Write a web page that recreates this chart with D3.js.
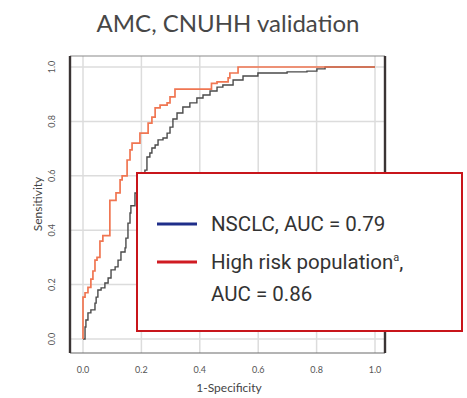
<!DOCTYPE html>
<html><head><meta charset="utf-8">
<script src="https://cdn.jsdelivr.net/npm/d3@7"></script>
<style>html,body{margin:0;padding:0;background:#fff;}svg{display:block;}</style>
</head><body>
<svg id="chart" width="467" height="398"></svg>
<script>
// ---- data ----
const title = "AMC, CNUHH validation";
const xTicks = [0, 0.2, 0.4, 0.6, 0.8, 1.0];
const xTickLabels = ["0.0", "0.2", "0.4", "0.6", "0.8", "1.0"];
const yTicks = [0, 0.2, 0.4, 0.6, 0.8, 1.0];
const yTickLabels = ["0.0", "0.2", "0.4", "0.6", "0.8", "1.0"];
const xLabel = "1-Specificity";
const yLabel = "Sensitivity";

const nsclcFPR = [0,0.007,0.01,0.017,0.027,0.041,0.045,0.051,0.062,0.075,0.086,0.096,0.11,0.12,0.13,0.144,0.147,0.154,0.161,0.164,0.178,0.19,0.2,0.212,0.219,0.229,0.236,0.247,0.257,0.274,0.288,0.298,0.308,0.322,0.342,0.366,0.39,0.411,0.435,0.459,0.479,0.514,0.548,0.599,0.699,0.767,0.801,0.829,1.0];
const nsclcTPR = [0,0.044,0.07,0.096,0.107,0.132,0.154,0.18,0.188,0.206,0.224,0.254,0.265,0.29,0.32,0.335,0.371,0.426,0.463,0.49,0.537,0.565,0.59,0.621,0.669,0.684,0.702,0.713,0.732,0.739,0.757,0.779,0.809,0.831,0.853,0.868,0.886,0.897,0.912,0.926,0.934,0.952,0.967,0.978,0.982,0.985,0.993,1.0,1.0];

const highFPR = [0,0,0.007,0.017,0.027,0.034,0.041,0.048,0.058,0.068,0.092,0.092,0.113,0.127,0.134,0.151,0.161,0.168,0.195,0.223,0.236,0.247,0.264,0.288,0.298,0.315,0.44,0.459,0.497,0.503,0.531,1.0];
const highTPR = [0,0.154,0.17,0.19,0.22,0.25,0.29,0.30,0.36,0.38,0.39,0.51,0.537,0.585,0.6,0.658,0.695,0.72,0.757,0.794,0.816,0.85,0.86,0.868,0.89,0.919,0.94,0.945,0.96,0.978,1.0,1.0];

const legendLabels = ["NSCLC, AUC = 0.79", "High risk population", "AUC = 0.86"];

// ---- drawing ----
const svg = d3.select("#chart");
const x = d3.scaleLinear().domain([0, 1]).range([83, 375]);
const y = d3.scaleLinear().domain([0, 1]).range([339, 67]);
const frame = {x0: 70, x1: 385, y0: 56, y1: 353};

// title
svg.append("text").attr("x", 228).attr("y", 32).attr("text-anchor", "middle")
  .attr("font-family", "Lato, 'Open Sans', sans-serif").attr("font-size", 24)
  .attr("fill", "#474747").text(title);

// grid
const g = svg.append("g");
g.selectAll("line.gx").data(xTicks).join("line")
  .attr("x1", d => x(d)).attr("x2", d => x(d))
  .attr("y1", frame.y0).attr("y2", frame.y1)
  .attr("stroke", "#dcdcdc").attr("stroke-width", 1.5);
g.selectAll("line.gy").data(yTicks).join("line")
  .attr("y1", d => y(d)).attr("y2", d => y(d))
  .attr("x1", frame.x0).attr("x2", frame.x1)
  .attr("stroke", "#dcdcdc").attr("stroke-width", 1.5);

// curves
const line = d3.line().curve(d3.curveStepAfter).x(d => x(d[0])).y(d => y(d[1]));
const nsclc = nsclcFPR.map((v, i) => [v, nsclcTPR[i]]);
const high = highFPR.map((v, i) => [v, highTPR[i]]);
svg.append("path").datum(nsclc).attr("d", line).attr("fill", "none")
  .attr("stroke", "#4a4a4a").attr("stroke-width", 1.4);
svg.append("path").datum(high).attr("d", line).attr("fill", "none")
  .attr("stroke", "#f07652").attr("stroke-width", 1.7);

// frame
svg.append("line").attr("x1", frame.x0).attr("x2", frame.x1).attr("y1", frame.y0).attr("y2", frame.y0)
  .attr("stroke", "#8a8a8a").attr("stroke-width", 1.2);
svg.append("line").attr("x1", frame.x0).attr("x2", frame.x1).attr("y1", frame.y1).attr("y2", frame.y1)
  .attr("stroke", "#6a6a6a").attr("stroke-width", 1.2);
svg.append("line").attr("x1", frame.x0).attr("x2", frame.x0).attr("y1", frame.y0).attr("y2", frame.y1)
  .attr("stroke", "#3a3434").attr("stroke-width", 2.4);
svg.append("line").attr("x1", frame.x1).attr("x2", frame.x1).attr("y1", frame.y0).attr("y2", frame.y1)
  .attr("stroke", "#3a3434").attr("stroke-width", 2.4);

// tick labels
svg.selectAll("text.xt").data(xTicks).join("text")
  .attr("x", d => x(d)).attr("y", 373).attr("text-anchor", "middle")
  .attr("font-family", "Lato, sans-serif").attr("font-size", 9).attr("fill", "#555")
  .text((d, i) => xTickLabels[i]);
svg.selectAll("text.yt").data(yTicks).join("text")
  .attr("transform", d => `translate(55,${y(d)}) rotate(-90)`).attr("text-anchor", "middle")
  .attr("font-family", "Lato, sans-serif").attr("font-size", 9).attr("fill", "#555")
  .text((d, i) => yTickLabels[i]);

// axis titles
svg.append("text").attr("x", 229).attr("y", 392).attr("text-anchor", "middle")
  .attr("font-family", "Lato, sans-serif").attr("font-size", 12).attr("fill", "#444").text(xLabel);
svg.append("text").attr("transform", "translate(42,204) rotate(-90)").attr("text-anchor", "middle")
  .attr("font-family", "Lato, sans-serif").attr("font-size", 12).attr("fill", "#444").text(yLabel);

// legend
const lg = svg.append("g");
lg.append("rect").attr("x", 137).attr("y", 173).attr("width", 325).attr("height", 158)
  .attr("fill", "#fff").attr("stroke", "#c8151b").attr("stroke-width", 2);
lg.append("line").attr("x1", 157).attr("x2", 197).attr("y1", 224).attr("y2", 224)
  .attr("stroke", "#1f2e8a").attr("stroke-width", 3);
lg.append("line").attr("x1", 157).attr("x2", 197).attr("y1", 262).attr("y2", 262)
  .attr("stroke", "#d01b22").attr("stroke-width", 3);
const lf = "Roboto, 'Noto Sans', sans-serif";
lg.append("text").attr("x", 211).attr("y", 231).attr("font-family", lf).attr("font-size", 20.5)
  .attr("fill", "#333").text(legendLabels[0]);
const t2 = lg.append("text").attr("x", 211).attr("y", 269).attr("font-family", lf).attr("font-size", 20.5)
  .attr("fill", "#333");
t2.append("tspan").text(legendLabels[1]);
t2.append("tspan").attr("font-size", 11).attr("dy", -8).text("a");
t2.append("tspan").attr("dy", 8).text(",");
lg.append("text").attr("x", 211).attr("y", 301).attr("font-family", lf).attr("font-size", 20.5)
  .attr("fill", "#333").text(legendLabels[2]);
</script>
</body></html>
